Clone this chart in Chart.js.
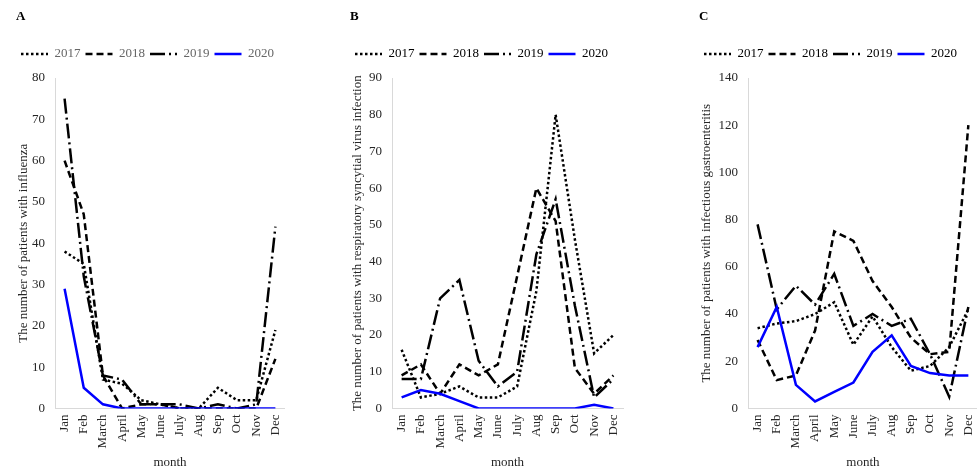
<!DOCTYPE html>
<html><head><meta charset="utf-8">
<script src="https://cdn.jsdelivr.net/npm/chart.js@4.4.0/dist/chart.umd.min.js"></script>
<style>
html,body{margin:0;padding:0;background:#fff;width:977px;height:470px;overflow:hidden;position:relative;}
.p{position:absolute;top:0;height:470px;}
</style></head><body>
<div class="p" style="left:0px;width:297px"><canvas id="cA" width="297" height="470"></canvas></div>
<div class="p" style="left:332px;width:303px"><canvas id="cB" width="303" height="470"></canvas></div>
<div class="p" style="left:680px;width:310px"><canvas id="cC" width="310" height="470"></canvas></div>
<script>
const months = ['Jan','Feb','March','April','May','June','July','Aug','Sep','Oct','Nov','Dec'];
const years = ['2017','2018','2019','2020'];

const flu2017 = [38,35,7,6,2,1,0,0,5,2,2,19];
const flu2018 = [60,47,8,0,1,1,0,0,0,0,0,12];
const flu2019 = [75,32,8,7,1,1,1,0,1,0,1,44];
const flu2020 = [29,5,1,0,0,0,0,0,0,0,0,0];

const rsv2017 = [16,3,4,6,3,3,6,32,80,46,15,20];
const rsv2018 = [9,12,4,12,9,12,36,60,51,11,4,9];
const rsv2019 = [8,8,30,35,13,6,10,42,57,28,3,8];
const rsv2020 = [3,5,4,2,0,0,0,0,0,0,1,0];

const gas2017 = [34,36,37,40,45,27,39,26,16,18,26,42];
const gas2018 = [29,12,14,33,75,71,54,43,30,23,24,120];
const gas2019 = [78,42,52,44,57,35,40,35,38,23,5,43];
const gas2020 = [26,43,10,3,7,11,24,31,18,15,14,14];

const FONT = 'Liberation Serif';
const TXT = '#262626';

function ds(series){
  const styles = [
    {borderColor:'#000', borderDash:[2.5,2.5], order:1},
    {borderColor:'#000', borderDash:[7,4], order:1},
    {borderColor:'#000', borderDash:[15,4,2,4], order:1},
    {borderColor:'#0000ff', borderDash:[], order:0}
  ];
  return series.map((s,i)=>Object.assign({
    label: years[i], data: s, borderWidth: 2.5, pointRadius: 0, tension: 0, fill:false
  }, styles[i]));
}

function make(id, panel, series, yTitle, yMax, step, legendColor, pad, yTitlePad){
  new Chart(document.getElementById(id), {
    type:'line',
    data:{labels: months, datasets: ds(series)},
    options:{
      responsive:false, animation:false,
      layout:{padding:pad},
      plugins:{
        title:{display:true, text:panel, align:'start', color:'#000',
          font:{family:FONT, size:13, weight:'bold', lineHeight:1.2}, padding:{top:9,bottom:17.9}, weight:2000},
        legend:{display:true, position:'top', align:'start', weight:1500,
          labels:{usePointStyle:true, pointStyle:'line', pointStyleWidth:27, boxHeight:13, padding:5,
            color:legendColor, font:{family:FONT, size:13},
            generateLabels:(chart)=>chart.data.datasets.map((d,i)=>({
              text:d.label, fillStyle:d.borderColor, strokeStyle:d.borderColor,
              lineWidth:d.borderWidth, lineDash:d.borderDash, lineCap:'butt',
              pointStyle:'line', datasetIndex:i, hidden:false, fontColor:legendColor
            }))}},
        subtitle:{display:true, text:'', weight:500, font:{size:1, lineHeight:1}, padding:{top:0,bottom:6.5}},
        tooltip:{enabled:false}
      },
      scales:{
        x:{offset:true,
          grid:{display:false, drawTicks:false},
          border:{display:true, color:'#d9d9d9', width:1},
          ticks:{autoSkip:false, minRotation:90, maxRotation:90, padding:6, color:TXT, font:{family:FONT, size:13}},
          title:{display:true, text:'month', color:TXT, font:{family:FONT, size:13, lineHeight:1.2}, padding:{top:0,bottom:0}}
        },
        y:{min:0, max:yMax,
          grid:{display:false, drawTicks:false},
          border:{display:true, color:'#d9d9d9', width:1},
          ticks:{stepSize:step, padding:10, color:TXT, font:{family:FONT, size:13}},
          title:{display:true, text:yTitle, color:TXT, font:{family:FONT, size:13, lineHeight:1.2}, padding:yTitlePad}
        }
      }
    }
  });
}

make('cA','A',[flu2017,flu2018,flu2019,flu2020],'The number of patients with influenza',80,10,'#666666',
  {left:16,right:0,top:0,bottom:0},{top:0,bottom:-9.6});
make('cB','B',[rsv2017,rsv2018,rsv2019,rsv2020],'The number of patients with respiratory syncytial virus infection',90,10,'#000000',
  {left:18,right:0,top:0,bottom:0},{top:0,bottom:-6.6});
make('cC','C',[gas2017,gas2018,gas2019,gas2020],'The number of patients with infectious gastroenteritis',140,20,'#000000',
  {left:19,right:1,top:0,bottom:0},{top:0,bottom:-6.1});
</script>
</body></html>
